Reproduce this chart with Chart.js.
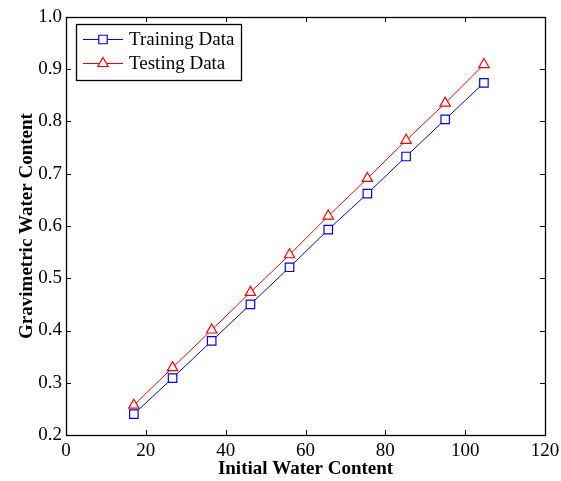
<!DOCTYPE html>
<html lang="en">
<head>
    <meta charset="UTF-8">
    <title>Gravimetric vs Initial Water Content</title>
    <script src="https://cdn.jsdelivr.net/npm/chart.js"></script>
    <style>
        body {
            margin: 0;
            background: #ffffff;
        }
        #wrap {
            width: 561px;
            height: 481px;
        }
    </style>
</head>
<body>
    <div id="wrap"><canvas id="waterChart" width="561" height="481"></canvas></div>

    <script>
        // values
        let initialWater = [17.0, 26.7, 36.5, 46.2, 56.0, 65.7, 75.5, 85.2, 95.0, 104.7];
        let training = [0.240, 0.309, 0.380, 0.450, 0.521, 0.593, 0.662, 0.733, 0.804, 0.874];
        let testing = [0.257, 0.329, 0.401, 0.473, 0.545, 0.619, 0.691, 0.764, 0.835, 0.909];
        let seriesNames = ["Training Data", "Testing Data"];
        let xTicks = [0, 20, 40, 60, 80, 100, 120];
        let yTicks = [0.2, 0.3, 0.4, 0.5, 0.6, 0.7, 0.8, 0.9, 1.0];

        const FONT = "'Liberation Serif', 'DejaVu Serif', serif";

        function toPoints(xs, ys) {
            return xs.map((x, i) => ({ x: x, y: ys[i] }));
        }

        // box around the plot + inward tick marks on all four sides
        const boxPlugin = {
            id: 'matlabBox',
            afterDraw(chart) {
                const ctx = chart.ctx;
                const a = chart.chartArea;
                const xs = chart.scales.x, ys = chart.scales.y;
                const len = 5;
                ctx.save();
                ctx.strokeStyle = '#000';
                ctx.lineWidth = 1;
                ctx.beginPath();
                xTicks.forEach(v => {
                    const px = Math.round(xs.getPixelForValue(v)) + 0.5;
                    ctx.moveTo(px, a.bottom); ctx.lineTo(px, a.bottom - len);
                    ctx.moveTo(px, a.top); ctx.lineTo(px, a.top + len);
                });
                yTicks.forEach(v => {
                    const py = Math.round(ys.getPixelForValue(v)) + 0.5;
                    ctx.moveTo(a.left, py); ctx.lineTo(a.left + len, py);
                    ctx.moveTo(a.right, py); ctx.lineTo(a.right - len, py);
                });
                ctx.stroke();
                ctx.lineWidth = 1.3;
                ctx.strokeRect(Math.round(a.left) + 0.5, Math.round(a.top) + 0.5,
                    Math.round(a.right - a.left), Math.round(a.bottom - a.top));
                ctx.restore();
            }
        };

        // legend drawn inside the axes, upper left
        const legendPlugin = {
            id: 'insideLegend',
            afterDraw(chart) {
                const ctx = chart.ctx;
                const a = chart.chartArea;
                ctx.save();
                ctx.font = "19px " + FONT;
                const textW = Math.max(...chart.data.datasets.map(d => ctx.measureText(d.label).width));
                const left = a.left + 10, top = a.top + 7;
                const rowH = 24;
                const w = 52 + textW + 8;
                const h = rowH * chart.data.datasets.length + 8;
                ctx.fillStyle = '#fff';
                ctx.fillRect(left, top, w, h);
                ctx.strokeStyle = '#000';
                ctx.lineWidth = 1.3;
                ctx.strokeRect(Math.round(left) + 0.5, Math.round(top) + 0.5, Math.round(w), Math.round(h));
                chart.data.datasets.forEach((d, i) => {
                    const cy = top + 15.5 + i * rowH;
                    ctx.strokeStyle = d.borderColor;
                    ctx.lineWidth = 1;
                    ctx.beginPath();
                    ctx.moveTo(left + 7, cy);
                    ctx.lineTo(left + 47, cy);
                    ctx.stroke();
                    ctx.fillStyle = '#fff';
                    ctx.strokeStyle = d.borderColor;
                    ctx.lineWidth = 1.2;
                    Chart.helpers.drawPoint(ctx, {
                        pointStyle: d.pointStyle,
                        radius: d.pointRadius,
                        borderWidth: 1.2
                    }, left + 27, cy);
                    ctx.fillStyle = '#000';
                    ctx.textBaseline = 'middle';
                    ctx.textAlign = 'left';
                    ctx.fillText(d.label, left + 53, cy + 1);
                });
                ctx.restore();
            }
        };

        new Chart(document.getElementById("waterChart"), {
            type: 'line',
            data: {
                datasets: [
                    {
                        label: seriesNames[0],
                        data: toPoints(initialWater, training),
                        borderColor: "#0000ff",
                        backgroundColor: "#ffffff",
                        pointBackgroundColor: "#ffffff",
                        pointBorderColor: "#0000ff",
                        borderWidth: 1,
                        pointBorderWidth: 1.2,
                        pointStyle: 'rect',
                        pointRadius: 6,
                        tension: 0
                    },
                    {
                        label: seriesNames[1],
                        data: toPoints(initialWater, testing),
                        borderColor: "#ff0000",
                        backgroundColor: "#ffffff",
                        pointBackgroundColor: "#ffffff",
                        pointBorderColor: "#ff0000",
                        borderWidth: 1,
                        pointBorderWidth: 1.2,
                        pointStyle: 'triangle',
                        pointRadius: 6,
                        tension: 0
                    }
                ]
            },
            options: {
                responsive: false,
                animation: false,
                layout: {
                    padding: { left: 0, top: 17, right: 16, bottom: 0 }
                },
                plugins: {
                    legend: { display: false },
                    tooltip: { enabled: false }
                },
                scales: {
                    x: {
                        type: 'linear',
                        min: 0,
                        max: 120,
                        afterBuildTicks: s => { s.ticks = xTicks.map(v => ({ value: v })); },
                        afterFit: s => { s.height = 46; },
                        grid: { display: false, drawTicks: false },
                        border: { display: false },
                        ticks: {
                            color: "#000",
                            padding: 1,
                            maxRotation: 0,
                            font: { family: FONT, size: 19, lineHeight: 1.55 }
                        },
                        title: {
                            display: true,
                            text: "Initial Water Content",
                            color: "#000",
                            padding: { top: 0, bottom: 1 },
                            font: { family: FONT, size: 19, weight: 'bold' }
                        }
                    },
                    y: {
                        min: 0.2,
                        max: 1.0,
                        afterBuildTicks: s => { s.ticks = yTicks.map(v => ({ value: v })); },
                        afterFit: s => { s.width = 66; },
                        grid: { display: false, drawTicks: false },
                        border: { display: false },
                        ticks: {
                            color: "#000",
                            padding: 4,
                            font: { family: FONT, size: 19 },
                            callback: v => v.toFixed(1)
                        },
                        title: {
                            display: true,
                            text: "Gravimetric Water Content",
                            color: "#000",
                            padding: { top: 16, bottom: 0 },
                            font: { family: FONT, size: 19, weight: 'bold' }
                        }
                    }
                }
            },
            plugins: [boxPlugin, legendPlugin]
        });
    </script>
</body>
</html>
